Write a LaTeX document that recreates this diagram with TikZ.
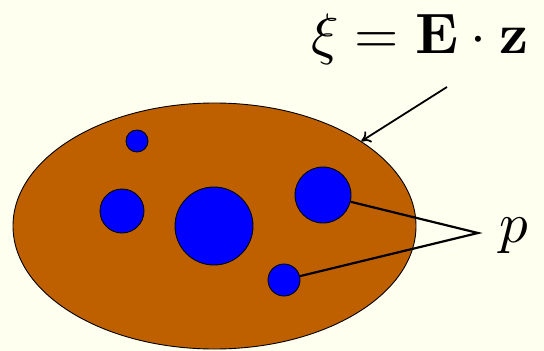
\documentclass[tikz,border=0pt]{standalone}
\usepackage{tikz}
\usetikzlibrary{shapes.geometric,arrows.meta,positioning}

\definecolor{bgivory}{RGB}{255,255,240}
\definecolor{clay}{RGB}{191,96,0}

\begin{document}
\begin{tikzpicture}[
  x=1pt, y=-1pt,
  body/.style={draw=black, fill=clay, ellipse, line width=0.9pt,
               inner sep=0pt, minimum width=403pt, minimum height=246pt},
  grain/.style={draw=black, fill=blue, circle, line width=0.9pt,
                inner sep=0pt, minimum size=#1},
  big/.style={scale=5.7, inner sep=0pt},
  lead/.style={line width=2.2pt, black},
  arr/.style={-{To[length=9pt,width=13pt]}, line width=1.8pt, black}
]
\fill[bgivory] (0,0) rectangle (544,351);
\useasboundingbox (0,0) rectangle (544,351);

\node[body] (blob) at (214.5,226) {};

\node[grain=22pt] (g1) at (137,141) {};
\node[grain=44pt] (g2) at (122,211) {};
\node[grain=78pt] (g3) at (214,226) {};
\node[grain=56pt] (g4) at (323,195) {};
\node[grain=32pt] (g5) at (284,280) {};

\node[big, anchor=base] (eq) at (420,53) {$\xi = \mathbf{E}\cdot\mathbf{z}$};
\node[big, anchor=base west] (lp) at (498,242) {$p$};

\coordinate (tail) at (447,87);
\coordinate (vx) at (478,233);

\draw[arr] (tail) -- (blob.30);
\draw[lead] (g4) -- (vx) -- (g5);
\end{tikzpicture}
\end{document}
